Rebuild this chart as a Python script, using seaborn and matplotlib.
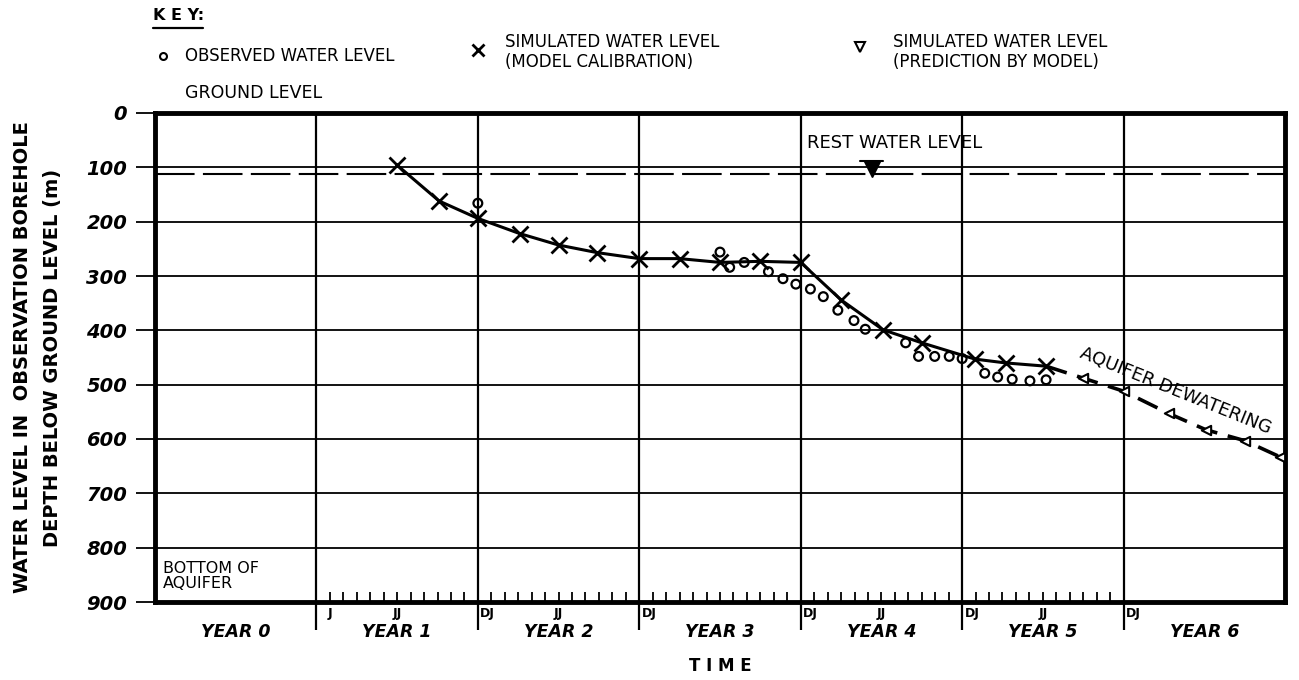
import numpy as np
import pandas as pd
import matplotlib
matplotlib.use("Agg")
import matplotlib.pyplot as plt
import seaborn as sns
from matplotlib.lines import Line2D

# ---------------- data (time in years from start of YEAR 0, depth in m) -------------
calib_t = [1.5, 1.76, 2.0, 2.26, 2.5, 2.74, 3.0, 3.25, 3.5, 3.75, 4.0,
           4.25, 4.51, 4.75, 5.08, 5.27, 5.52]
calib_depth = [96, 162, 194, 222, 243, 257, 268, 268, 275, 273, 275,
               344, 399, 423, 453, 460, 466]

obs_t = [2.0, 3.5, 3.56, 3.65, 3.80, 3.89, 3.97, 4.06, 4.14, 4.23, 4.33,
         4.40, 4.65, 4.73, 4.83, 4.92, 5.0, 5.14, 5.22, 5.31, 5.42, 5.52]
obs_depth = [166, 256, 284, 275, 292, 305, 315, 324, 338, 363, 382,
             398, 423, 448, 448, 448, 452, 479, 486, 490, 493, 491]

pred_t = [5.52, 5.75, 6.0, 6.28, 6.51, 6.75, 6.97]
pred_depth = [466, 488, 512, 553, 583, 603, 633]

rest_water_level = 113
depth_ticks = [0, 100, 200, 300, 400, 500, 600, 700, 800, 900]
year_labels = ["YEAR 0", "YEAR 1", "YEAR 2", "YEAR 3", "YEAR 4", "YEAR 5", "YEAR 6"]
month_labels = ["J", "JJ", "DJ", "JJ", "DJ", "DJ", "JJ", "DJ", "JJ", "DJ"]
month_label_pos = [1.0, 1.5, 2.0, 2.5, 3.0, 4.0, 4.5, 5.0, 5.5, 6.0]

# ---------------- figure -------------
sns.set_style("white")
plt.rcParams['font.family'] = ['DejaVu Sans']
plt.rcParams['text.color'] = 'black'
plt.rcParams['xtick.color'] = 'black'
plt.rcParams['ytick.color'] = 'black'

W, H = 1299, 680
fig = plt.figure(figsize=(W / 100, H / 100), dpi=100)
L, R, T, B = 155, 1285, 113, 602
ax = fig.add_axes([L / W, 1 - B / H, (R - L) / W, (B - T) / H])

def fx(px):
    return px / W

def fy(py):
    return 1 - py / H

# grid
for yv in depth_ticks[1:-1]:
    ax.axhline(yv, color='black', lw=1.3, zorder=1)
for xv in range(1, 7):
    ax.axvline(xv, color='black', lw=1.6, zorder=1)

# rest water level
ax.axhline(rest_water_level, color='black', lw=1.5, ls=(0, (19, 4)), zorder=2)

# calibration curve
df_cal = pd.DataFrame({"t": calib_t, "d": calib_depth})
sns.lineplot(data=df_cal, x="t", y="d", ax=ax, color='black', lw=2.2,
             marker='x', markersize=11, markeredgewidth=2.0,
             markeredgecolor='black', sort=False, zorder=4)

# prediction curve
df_pred = pd.DataFrame({"t": pred_t, "d": pred_depth})
sns.lineplot(data=df_pred, x="t", y="d", ax=ax, color='black', lw=2.6,
             ls=(0, (6, 3)), sort=False, zorder=4)
sns.scatterplot(data=df_pred.iloc[1:], x="t", y="d", ax=ax, marker='<', s=45,
                facecolor='white', edgecolor='black', linewidth=1.5, zorder=5)

# observed
df_obs = pd.DataFrame({"t": obs_t, "d": obs_depth})
sns.scatterplot(data=df_obs, x="t", y="d", ax=ax, marker='o', s=40,
                facecolor='none', edgecolor='black', linewidth=1.6, zorder=5)

ax.set_xlim(0, 7)
ax.set_ylim(900, 0)

for s in ax.spines.values():
    s.set_visible(True)
    s.set_linewidth(3.5)
    s.set_color('black')

ax.set_yticks(depth_ticks)
ax.set_yticklabels([str(v) for v in depth_ticks], fontsize=14,
                   fontweight='bold', fontstyle='italic')
ax.tick_params(axis='y', direction='out', length=14, width=1.3, pad=6, left=True)

ax.set_xticks(range(1, 7))
ax.set_xticklabels([])
ax.tick_params(axis='x', which='major', direction='out', length=20, width=1.6, bottom=True)
minor = [1 + k / 12 for k in range(60) if k % 12 != 0]
ax.set_xticks(minor, minor=True)
ax.tick_params(axis='x', which='minor', direction='in', length=7, width=1.3, bottom=True)
ax.set_xlabel("")
ax.set_ylabel("")

# month labels
for lab, pos in zip(month_labels, month_label_pos):
    if lab == "JJ":
        ax.text(pos, -0.01, lab, transform=ax.get_xaxis_transform(), ha='center',
                va='top', fontsize=9, fontweight='bold')
    else:
        off = 0.07 if lab == "J" else 0.015
        ax.text(pos + off, -0.01, lab, transform=ax.get_xaxis_transform(), ha='left',
                va='top', fontsize=9, fontweight='bold')

# year labels
for i, lab in enumerate(year_labels):
    ax.text(i + 0.5, 1 - (632 - T) / (B - T), lab, transform=ax.get_xaxis_transform(),
            ha='center', va='center', fontsize=12.5, fontweight='bold',
            fontstyle='italic')

# annotations inside plot
ax.plot([4.44], [103], marker='v', markersize=11, color='black', zorder=6)
ax.plot([4.37, 4.51], [88, 88], color='black', lw=1.5, zorder=6)
ax.text(4.04, 55, "REST WATER LEVEL", ha='left', va='center', fontsize=13)
ax.text(0.05, 852, "BOTTOM OF\nAQUIFER", ha='left', va='center', fontsize=11.5,
        linespacing=1.0)
ax.text(6.32, 512, "AQUIFER DEWATERING", ha='center', va='center', fontsize=13,
        rotation=-22, rotation_mode='anchor')

# axis titles
fig.text(fx(23), 1 - ((T + B) / 2) / H, "WATER LEVEL IN  OBSERVATION BOREHOLE",
         rotation=90, ha='center', va='center', fontsize=14, fontweight='bold')
fig.text(fx(53), 1 - ((T + B) / 2) / H, "DEPTH BELOW GROUND LEVEL (m)",
         rotation=90, ha='center', va='center', fontsize=14, fontweight='bold')
fig.text(fx(720), fy(666), "T I M E", ha='center', va='center', fontsize=12,
         fontweight='bold')

# key / legend
fig.text(fx(153), fy(16), "K E Y:", ha='left', va='center', fontsize=11.5, fontweight='bold')
fig.add_artist(Line2D([fx(153), fx(203)], [fy(28), fy(28)], color='black', lw=1.6))
fig.add_artist(Line2D([fx(163)], [fy(56)], marker='o', markersize=5, mfc='none',
                      mec='black', mew=1.5))
fig.text(fx(185), fy(56), "OBSERVED WATER LEVEL", ha='left', va='center', fontsize=12)
fig.add_artist(Line2D([fx(478)], [fy(50)], marker='x', markersize=8, mec='black', mew=2))
fig.text(fx(505), fy(42), "SIMULATED WATER LEVEL", ha='left', va='center', fontsize=12)
fig.text(fx(505), fy(62), "(MODEL CALIBRATION)", ha='left', va='center', fontsize=12)
fig.add_artist(Line2D([fx(860)], [fy(47)], marker='v', markersize=7, mfc='none',
                      mec='black', mew=1.5))
fig.text(fx(893), fy(42), "SIMULATED WATER LEVEL", ha='left', va='center', fontsize=12)
fig.text(fx(893), fy(62), "(PREDICTION BY MODEL)", ha='left', va='center', fontsize=12)
fig.text(fx(185), fy(93), "GROUND LEVEL", ha='left', va='center', fontsize=12.5)

fig.savefig("out.png", dpi=100)
